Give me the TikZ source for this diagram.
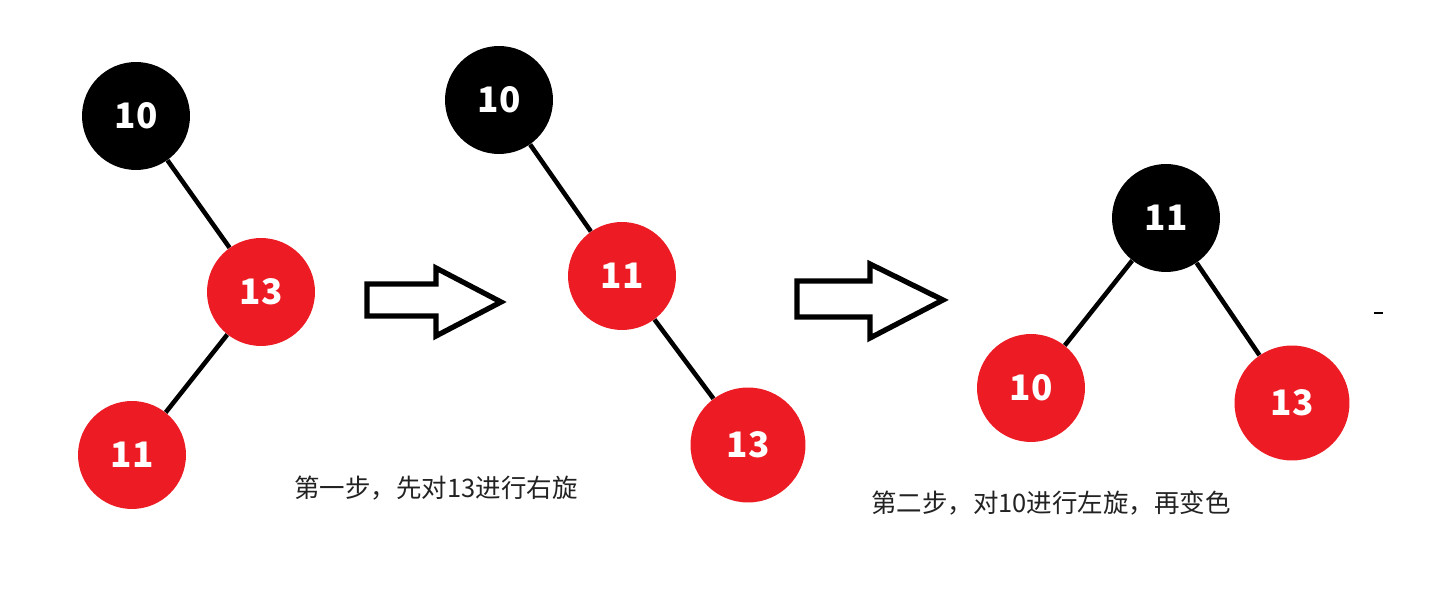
\documentclass[tikz,border=0pt]{standalone}
\usepackage{fontspec}
\usepackage{xcolor}
\usepackage{tikz}
\setmainfont{Noto Sans CJK SC}
\newfontfamily\cjk{Noto Sans CJK SC}
\definecolor{rbred}{HTML}{ED1C24}
\definecolor{capgray}{HTML}{222222}

\begin{document}
\begin{tikzpicture}[x=0.02cm,y=-0.02cm,
  blacknode/.style={circle,fill=black,text=white,minimum size=2.16cm,inner sep=0pt,font=\fontsize{20}{20}\selectfont\bfseries},
  rednode/.style={circle,fill=rbred,text=white,minimum size=2.16cm,inner sep=0pt,font=\fontsize{20}{20}\selectfont\bfseries},
  bigred/.style={rednode,minimum size=2.3cm},
  edge/.style={line width=2.6pt},
  blockarrow/.style={line width=3pt,line join=miter},
  caption/.style={text=capgray,font=\cjk\fontsize{14.5}{15}\selectfont}]

\useasboundingbox (0,0) rectangle (1438,590);

% first tree
\node[blacknode] (aten) at (136,116) {10};
\node[rednode] (athirteen) at (261,292) {13};
\node[rednode] (aeleven) at (132,455) {11};
\draw[edge] (aten) -- (athirteen);
\draw[edge] (athirteen) -- (aeleven);

% first arrow
\draw[blockarrow] (367,284) -- (436,284) -- (436,268) -- (501,302)
  -- (436,336) -- (436,316) -- (367,316) -- cycle;

% second tree
\node[blacknode] (bten) at (499,100) {10};
\node[rednode] (beleven) at (622,276) {11};
\node[bigred] (bthirteen) at (748,445) {13};
\draw[edge] (bten) -- (beleven);
\draw[edge] (beleven) -- (bthirteen);

% second arrow
\draw[blockarrow] (797,281) -- (870,281) -- (870,264) -- (943,300)
  -- (870,338) -- (870,317) -- (797,317) -- cycle;

% third tree
\node[blacknode] (celeven) at (1166,218) {11};
\node[rednode] (cten) at (1031,388) {10};
\node[bigred] (cthirteen) at (1292,403) {13};
\draw[edge] (celeven) -- (cten);
\draw[edge] (celeven) -- (cthirteen);

\draw[line width=1.2pt] (1374,313) -- (1383,313);

% captions
\node[caption] (stepone) at (436,488) {第一步，先对13进行右旋};
\node[caption] (steptwo) at (1051,503) {第二步，对10进行左旋，再变色};
\end{tikzpicture}
\end{document}
